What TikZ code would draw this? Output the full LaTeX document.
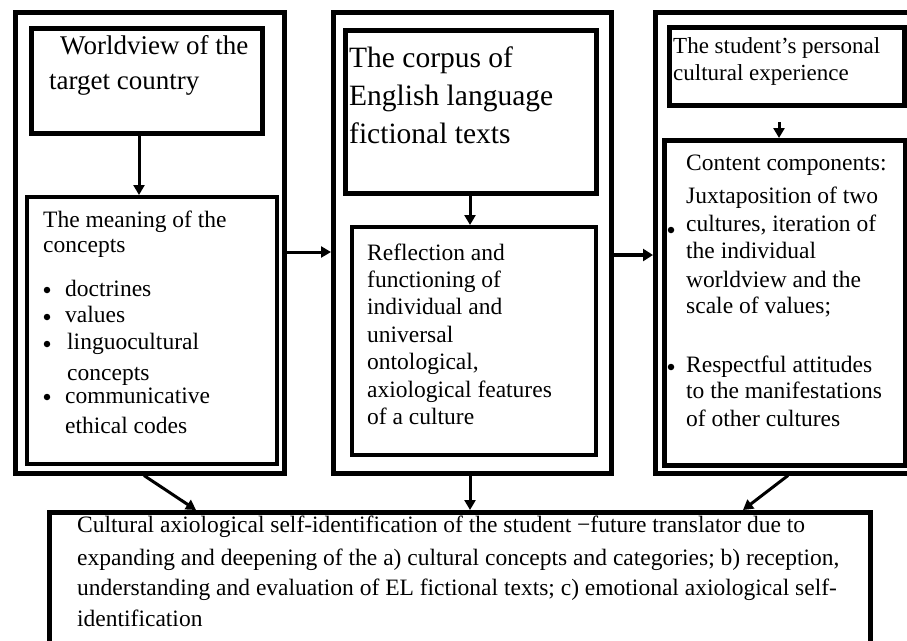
\documentclass[tikz,border=0pt]{standalone}
\usepackage{fontspec}
\setmainfont{Liberation Serif}
\usetikzlibrary{arrows.meta,calc}
\begin{document}
\begin{tikzpicture}[x=1pt,y=-1pt,
  box/.style={draw=black,rectangle,inner sep=0pt,anchor=north west},
  outerbox/.style={box,line width=4.5pt},
  topbox/.style={box,line width=5pt},
  lowbox/.style={box,line width=4pt},
  arr/.style={line width=3pt,-{Triangle[length=10pt,width=11pt]}},
  arrthick/.style={line width=4.5pt,-{Triangle[length=10pt,width=12pt]}},
  txt/.style={anchor=base west,inner sep=0pt},
  ftA/.style={font=\fontsize{27}{30}\selectfont},
  ftB/.style={font=\fontsize{29.5}{34}\selectfont},
  ftC/.style={font=\fontsize{23}{27}\selectfont},
  ftM/.style={font=\fontsize{23.5}{27}\selectfont},
  ftD/.style={font=\fontsize{23.5}{27}\selectfont},
  ftE/.style={font=\fontsize{23.5}{27}\selectfont},
  bul/.style={circle,fill=black,inner sep=0pt,minimum size=6.5pt}]
\useasboundingbox (0,0) rectangle (907,640);
% outer boxes
\node[outerbox,minimum width=269pt,minimum height=461pt] (lo) at (13,10) {};
\node[outerbox,minimum width=278pt,minimum height=461pt] (mo) at (331,10) {};
\node[outerbox,minimum width=265pt,minimum height=461pt] (ro) at (653,10) {};
% inner boxes
\node[topbox,minimum width=231.5pt,minimum height=105.5pt] (wv) at (28.5,25.5) {};
\node[lowbox,minimum width=250pt,minimum height=267pt] (mean) at (25,195) {};
\node[topbox,minimum width=251pt,minimum height=163pt] (corp) at (343,28) {};
\node[lowbox,minimum width=244pt,minimum height=228pt] (refl) at (350,225) {};
\node[topbox,minimum width=235pt,minimum height=78pt] (pers) at (667,25) {};
\node[outerbox,minimum width=241pt,minimum height=325pt] (cont) at (662,138) {};
\node[outerbox,minimum width=821pt,minimum height=150pt] (res) at (47,510) {};
% texts
\node[txt,ftA] at (60,54) {Worldview of the};
\node[txt,ftA] at (49,89) {target country};
\node[txt,ftB] at (349,67) {The corpus of};
\node[txt,ftB] at (349,105) {English language};
\node[txt,ftB] at (349,143) {fictional texts};
\node[txt,ftC] at (673,53) {The student’s personal};
\node[txt,ftC] at (673,80) {cultural experience};
% meaning
\node[txt,ftM] at (43,227) {The meaning of the};
\node[txt,ftM] at (43,252) {concepts};
\node[bul] (b1) at (47,290) {};
\node[txt,ftM] at (65,296) {doctrines};
\node[bul] (b2) at (47,317) {};
\node[txt,ftM] at (65,322) {values};
\node[bul] (b3) at (47,344) {};
\node[txt,ftM] at (67,349) {linguocultural};
\node[txt,ftM] at (67,380) {concepts};
\node[bul] (b4) at (47,397) {};
\node[txt,ftM] at (65,403) {communicative};
\node[txt,ftM] at (65,433) {ethical codes};
% reflection
\node[txt,ftD] at (367,260) {Reflection and};
\node[txt,ftD] at (367,287) {functioning of};
\node[txt,ftD] at (367,314) {individual and};
\node[txt,ftD] at (367,342) {universal};
\node[txt,ftD] at (367,369) {ontological,};
\node[txt,ftD] at (367,397) {axiological features};
\node[txt,ftD] at (367,424) {of a culture};
% content components
\node[txt,ftD] at (686,170) {Content components:};
\node[txt,ftD] at (686,203) {Juxtaposition of two};
\node[bul] (b5) at (671,230) {};
\node[txt,ftD] at (686,231) {cultures, iteration of};
\node[txt,ftD] at (686,258) {the individual};
\node[txt,ftD] at (686,287) {worldview and the};
\node[txt,ftD] at (686,313) {scale of values;};
\node[bul] (b6) at (671,367) {};
\node[txt,ftD] at (686,372) {Respectful attitudes};
\node[txt,ftD] at (686,398) {to the manifestations};
\node[txt,ftD] at (686,426) {of other cultures};
% result
\node[txt,ftE] at (77,532) {Cultural axiological self-identification of the student −future translator due to};
\node[txt,ftE] at (77,565) {expanding and deepening of the a) cultural concepts and categories; b) reception,};
\node[txt,ftE] at (77,595) {understanding and evaluation of EL fictional texts; c) emotional axiological self-};
\node[txt,ftE] at (77,626) {identification};
% connectors
\coordinate (c1) at (139,0);
\coordinate (c2) at (470,0);
\coordinate (c3) at (779,0);
\coordinate (y1) at (0,252);
\coordinate (y2) at (0,255);
\coordinate (s3) at (779,122);
\coordinate (lb) at (144,0);
\coordinate (lt) at (196,0);
\coordinate (rb) at (788,0);
\coordinate (rt) at (743,0);
\draw[arr] (wv.south -| c1) -- (mean.north -| c1);
\draw[arr] (corp.south -| c2) -- (refl.north -| c2);
\draw[arr] (s3) -- (cont.north -| c3);
\draw[arr] (lo.east |- y1) -- (mo.west |- y1);
\draw[arrthick] (mo.east |- y2) -- (ro.west |- y2);
\draw[arr] (lo.south -| lb) -- (res.north -| lt);
\draw[arr] (mo.south -| c2) -- (res.north -| c2);
\draw[arr] (ro.south -| rb) -- (res.north -| rt);
\end{tikzpicture}
\end{document}
